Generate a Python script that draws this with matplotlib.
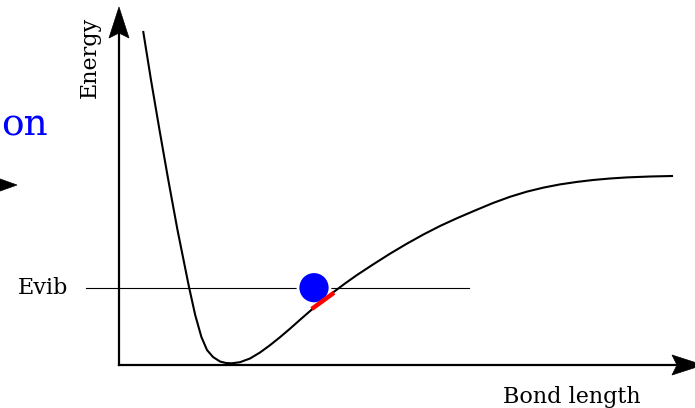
import numpy as np
import matplotlib.pyplot as plt
from matplotlib.patches import Polygon, Circle

# =========================
# Данные (в единицах графика, начало координат - угол осей)
# =========================
bond_length = [24.3, 32, 40.5, 49.3, 58.5, 70, 76.2, 82.4, 88, 94, 101, 107,
               112.7, 121, 131, 141, 151, 161, 171, 181, 194, 204, 214, 226,
               238, 254, 271, 287, 304, 321, 338, 356, 374, 391, 408, 425,
               441, 458, 474, 491, 508, 531, 553]
energy = [333, 285, 235, 185, 135, 78, 50, 28, 15, 8, 3.5, 2,
          1.7, 2.8, 6.5, 12.5, 19.8, 27.8, 36.3, 45.2, 56.5, 64.7, 72.5, 81.5,
          90, 100.5, 111.3, 120.8, 130.3, 139, 146.8, 154.5, 162, 168.2, 173.4, 177.5,
          180.6, 183.1, 185, 186.5, 187.6, 188.5, 189]

evib_level = 77
evib_start, evib_end = -33, 350
ball_x, ball_y, ball_r = 195, 77.3, 16
red_x = [192.7, 215]
red_y = [56, 72.3]

x_tip, y_tip = 584, 358

x_label = 'Bond length'
y_label = 'Energy'
level_label = 'Evib'
title_part = 'on'


def arrow_head(ax, tip, direction, length=31, width=20, notch=5):
    """Рисует закрашенный наконечник стрелки (как stealth)."""
    d = np.array(direction, dtype=float)
    d /= np.linalg.norm(d)
    n = np.array([-d[1], d[0]])
    tip = np.array(tip, dtype=float)
    back = tip - length * d
    pts = [tip, back + n * width / 2, tip - (length - notch) * d, back - n * width / 2]
    ax.add_patch(Polygon(pts, closed=True, facecolor='black', edgecolor='black',
                         linewidth=0.5, zorder=4))
    return tip - (length - notch) * d


fig = plt.figure(figsize=(6.95, 4.08), dpi=100)
ax = fig.add_axes([0, 0, 1, 1])
ax.set_xlim(-119, 576)
ax.set_ylim(-43, 365)
ax.axis('off')

serif = ['DejaVu Serif']

# оси со стрелками
end = arrow_head(ax, (0, y_tip), (0, 1))
ax.plot([0, 0], [0, end[1]], color='black', lw=1.6, solid_capstyle='projecting', zorder=3)
end = arrow_head(ax, (x_tip, 0), (1, 0))
ax.plot([0, end[0]], [0, 0], color='black', lw=1.6, solid_capstyle='projecting', zorder=3)

# потенциальная кривая
ax.plot(bond_length, energy, color='black', lw=1.5, zorder=3, solid_joinstyle='round')

# уровень Evib
ax.plot([evib_start, evib_end], [evib_level, evib_level], color='black', lw=0.8, zorder=2)
ax.text(-76, evib_level, level_label, ha='center', va='center', fontsize=16, family=serif)

# шарик и красный отрезок
ax.add_patch(Circle((ball_x, ball_y), ball_r, facecolor='#0000ff', edgecolor='white',
                    linewidth=2, zorder=5))
ax.plot(red_x, red_y, color='#ff0000', lw=3.2, solid_capstyle='butt', zorder=6)

# подписи осей
ax.text(453, -32, x_label, ha='center', va='center', fontsize=16, family=serif)
ax.text(-29, 308, y_label, ha='center', va='center', rotation=90, fontsize=16, family=serif)

# заголовок (фрагмент) и стрелка слева
ax.text(-118, 229, title_part, ha='left', va='baseline', fontsize=27,
        color='#0000ff', family=serif)
end = arrow_head(ax, (-102, 180), (1, 0), length=28, width=20)
ax.plot([-160, end[0]], [180, 180], color='black', lw=2, zorder=3)

fig.savefig('out.png', dpi=100)
